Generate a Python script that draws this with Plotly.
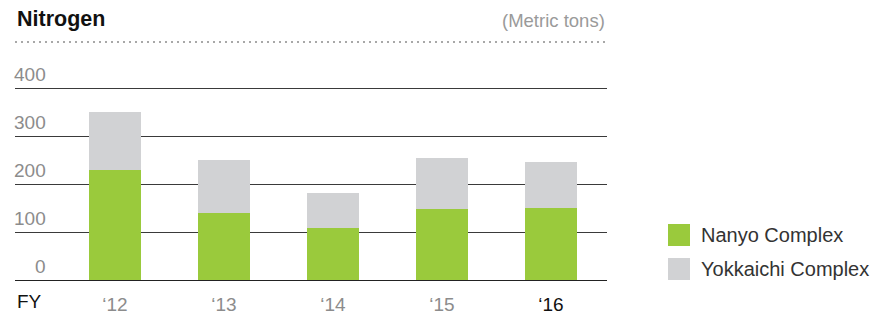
import plotly.graph_objects as go

# ---- data ----
years = ["‘12", "‘13", "‘14", "‘15", "‘16"]
nanyo = [230, 140, 109, 148, 151]
yokkaichi = [120, 110, 73, 107, 95]
series_names = ["Nanyo Complex", "Yokkaichi Complex"]
y_ticks = [0, 100, 200, 300, 400]
title_text = "Nitrogen"
unit_text = "(Metric tons)"
axis_prefix = "FY"

GREEN = "#9aca3c"
GREY = "#d1d2d4"
FONT = "Liberation Sans, Arial, sans-serif"

OFF = 8                   # page body margin
W, H = 879 - OFF, 316 - OFF
# target plot area in page pixels: x 15..607, y 86..281
L = 15 - OFF
R = W - (607 - OFF)
T = 86 - OFF
B = H - (281 - OFF)
PW = W - L - R
PH = H - T - B

def px_x(x):
    return (x - OFF - L) / PW

def px_y(y):
    return (H - B - (y - OFF)) / PH

xs = list(range(len(years)))

fig = go.Figure()
fig.add_bar(x=xs, y=nanyo, name=series_names[0], marker_color=GREEN,
            marker_line_width=0, width=0.477, showlegend=False)
fig.add_bar(x=xs, y=yokkaichi, name=series_names[1], marker_color=GREY,
            marker_line_width=0, width=0.477, showlegend=False)

ticktext = []
for i, y in enumerate(years):
    if i == len(years) - 1:
        ticktext.append(f"<span style='color:#111111'>{y}</span>")
    else:
        ticktext.append(y)

annotations = []
for v in y_ticks:
    annotations.append(dict(x=px_x(48), xref="paper", y=v, yref="y",
                            text=str(v), showarrow=False, xanchor="right",
                            yanchor="bottom", yshift=1,
                            font=dict(family=FONT, size=19, color="#8c8c8c")))
annotations.append(dict(x=px_x(15), xref="paper", y=px_y(301), yref="paper",
                        text=axis_prefix, showarrow=False, xanchor="left",
                        yanchor="middle",
                        font=dict(family=FONT, size=19, color="#111111")))
annotations.append(dict(x=px_x(15), xref="paper", y=px_y(19), yref="paper",
                        text=f"<b>{title_text}</b>", showarrow=False,
                        xanchor="left", yanchor="middle",
                        font=dict(family=FONT, size=21.5, color="#111111")))
annotations.append(dict(x=px_x(607), xref="paper", y=px_y(20), yref="paper",
                        text=unit_text, showarrow=False,
                        xanchor="right", yanchor="middle",
                        font=dict(family=FONT, size=18.5, color="#9a9a9a")))
for name, yc in zip(series_names, [235, 269]):
    annotations.append(dict(x=px_x(699), xref="paper", y=px_y(yc), yref="paper",
                            text=name, showarrow=False, xanchor="left",
                            yanchor="middle",
                            font=dict(family=FONT, size=20, color="#333333")))

shapes = [
    dict(type="line", xref="paper", yref="paper", x0=0, x1=1,
         y0=px_y(42), y1=px_y(42),
         line=dict(color="#a8a8a8", width=2, dash="2px,4px")),
]
for col, (y0, y1) in zip([GREEN, GREY], [(224, 246), (258, 280)]):
    shapes.append(dict(type="rect", xref="paper", yref="paper",
                       x0=px_x(668), x1=px_x(690), y0=px_y(y1), y1=px_y(y0),
                       fillcolor=col, line_width=0))

fig.update_layout(
    width=W, height=H,
    margin=dict(l=L, r=R, t=T, b=B, pad=0, autoexpand=False),
    barmode="stack",
    plot_bgcolor="white", paper_bgcolor="white",
    showlegend=False,
    annotations=annotations,
    shapes=shapes,
    xaxis=dict(range=[-100 / 109, 492 / 109], tickvals=xs, ticktext=ticktext,
               showgrid=False, zeroline=False, showline=False, ticks="",
               ticklabelstandoff=10, automargin=False,
               tickfont=dict(family=FONT, size=19, color="#8c8c8c")),
    yaxis=dict(range=[-2.083, 404.167], tickvals=y_ticks, showticklabels=False,
               showgrid=True, gridcolor="#3a3a3a", gridwidth=1,
               zeroline=True, zerolinecolor="#222222", zerolinewidth=1,
               showline=False, ticks="", automargin=False),
)

fig.write_html("out.html")
